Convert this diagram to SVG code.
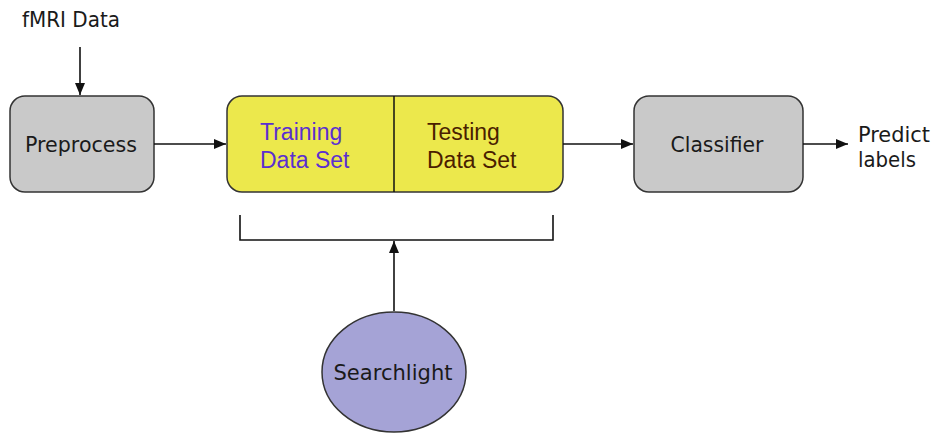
<svg xmlns="http://www.w3.org/2000/svg" width="938" height="433" viewBox="0 0 938 433">
  <style>
    .lbl { font-family: "DejaVu Sans", "Noto Sans", sans-serif; font-size: 22px; fill: #1a1a1a; }
    .sans { font-family: "Liberation Sans", Arial, sans-serif; font-size: 23px; }
    .box { stroke: #333; stroke-width: 1.5; }
    .wire { fill: none; stroke: #111; stroke-width: 1.6; }
  </style>
  <defs>
    <marker id="arr" viewBox="0 0 12 10" refX="12" refY="5" markerWidth="12" markerHeight="10" markerUnits="userSpaceOnUse" orient="auto">
      <path d="M0,0 L12,5 L0,10 z" fill="#111"/>
    </marker>
  </defs>

  <g id="fmri-data">
    <text class="lbl" x="22" y="27" font-size="20" textLength="98" lengthAdjust="spacingAndGlyphs">fMRI Data</text>
  </g>

  <g id="preprocess">
    <rect class="box" x="10" y="96" width="144" height="96" rx="15" fill="#c9c9c9"/>
    <text class="lbl" x="81" y="152" text-anchor="middle" textLength="112" lengthAdjust="spacingAndGlyphs">Preprocess</text>
  </g>

  <g id="data-sets">
    <rect class="box" x="227" y="96" width="336" height="96" rx="15" fill="#ece84c"/>
    <line x1="394" y1="96" x2="394" y2="192" stroke="#111" stroke-width="1.5"/>
    <text class="sans" fill="#5a2fd0" x="260" y="140">Training</text>
    <text class="sans" fill="#5a2fd0" x="260" y="168">Data Set</text>
    <text class="sans" fill="#4a1e00" x="427" y="140">Testing</text>
    <text class="sans" fill="#4a1e00" x="427" y="168">Data Set</text>
  </g>

  <g id="classifier">
    <rect class="box" x="634" y="96" width="169" height="96" rx="15" fill="#c9c9c9"/>
    <text class="lbl" x="717" y="152" text-anchor="middle" textLength="93" lengthAdjust="spacingAndGlyphs">Classifier</text>
  </g>

  <g id="predict-labels">
    <text class="lbl" x="858" y="142" textLength="72" lengthAdjust="spacingAndGlyphs">Predict</text>
    <text class="lbl" x="858" y="167" textLength="58" lengthAdjust="spacingAndGlyphs">labels</text>
  </g>

  <g id="searchlight">
    <ellipse class="box" cx="394" cy="372" rx="72" ry="60" fill="#a5a3d6"/>
    <text class="lbl" x="393" y="380" text-anchor="middle" textLength="119" lengthAdjust="spacingAndGlyphs">Searchlight</text>
  </g>

  <g id="connectors">
    <line class="wire" x1="80" y1="47" x2="80" y2="95" marker-end="url(#arr)"/>
    <line class="wire" x1="154" y1="144" x2="226" y2="144" marker-end="url(#arr)"/>
    <line class="wire" x1="563" y1="144" x2="633" y2="144" marker-end="url(#arr)"/>
    <line class="wire" x1="803" y1="144" x2="848" y2="144" marker-end="url(#arr)"/>
    <polyline class="wire" points="240,215 240,240 553,240 553,215"/>
    <line class="wire" x1="394" y1="311" x2="394" y2="241" marker-end="url(#arr)"/>
  </g>
</svg>
